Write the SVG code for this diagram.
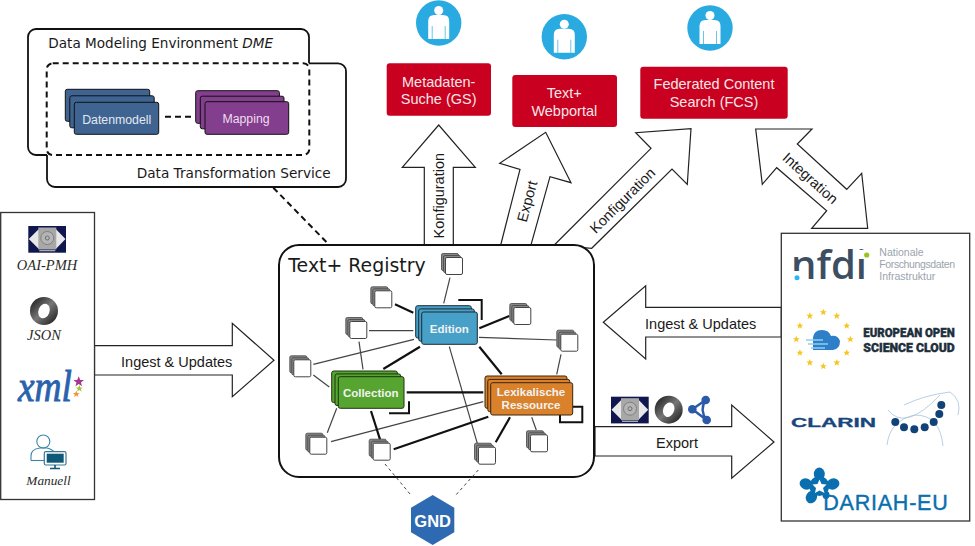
<svg xmlns="http://www.w3.org/2000/svg" width="975" height="546" viewBox="0 0 975 546">
<style>
.s{font-family:"Liberation Sans",Arial,sans-serif}
.d{font-family:"DejaVu Sans",Verdana,sans-serif;fill:#1a1a1a}
.c{text-anchor:middle}
.l{font-size:14.5px;fill:#1a1a1a}
.w{font-size:14.5px;fill:#f6e6e8}
.nb{font-size:11.5px;font-weight:bold;fill:#f2f2f2}
.se{font-family:"Liberation Serif","Times New Roman",serif;font-style:italic;font-size:14.5px;fill:#2a2a2a}
.arrow{fill:#fff;stroke:#222;stroke-width:1.2;stroke-linejoin:miter}
.box{fill:#fff;stroke:#333;stroke-width:1.3}
.red{fill:#c9001f}
.thin{stroke:#444;stroke-width:1.2;fill:none}
.thick{stroke:#111;stroke-width:2.2;fill:none}
.loop{stroke:#111;stroke-width:2;fill:none}
.dot{stroke:#444;stroke-width:1;stroke-dasharray:3 3;fill:none}
.dash{stroke:#111;stroke-width:2;stroke-dasharray:6 4;fill:none}
.sol{stroke:#111;stroke-width:1.8;fill:none}
.cb{fill:#888;stroke:#444;stroke-width:.8}
.cf{fill:#fff;stroke:#444;stroke-width:1}
</style>
<defs>
<g id="cube">
<rect class="cb" x="-12.5" y="-12.5" width="17" height="17" rx="1.5"/>
<rect class="cb" x="-10.5" y="-10.5" width="17" height="17" rx="1.5"/>
<rect class="cf" x="-8.5" y="-8.5" width="17" height="17" rx="1.5"/>
</g>
<g id="user">
<circle r="22.7" fill="#29abe2"/>
<circle cy="-12.5" r="4.5" fill="#fff"/>
<path d="M-10.5 16V-2q0-6 6-6H4.500q6 0 6 6V16z" fill="#fff"/>
<path d="M-6.500 3V16M6.500 3V16" stroke="#29abe2" stroke-width=".7"/>
</g>
<g id="oai">
<rect width="37.700" height="26.700" fill="#10164e"/>
<path d="M.5 13 10 3.500H28L37.200 13 28 22.500H10z" fill="#e8e8e8"/>
<rect x="10" y="1.500" width="18" height="22" fill="#a8a8a8"/>
<circle cx="19" cy="12" r="6.500" fill="#b5b5b5" stroke="#808080"/>
<circle cx="19" cy="12" r="2" fill="none" stroke="#707070"/>
<rect x="11" y="24" width="16" height="1.300" fill="#aaa"/>
</g>
<linearGradient id="jg" x1="0" y1="0" x2="1" y2="1">
<stop offset="0" stop-color="#111"/><stop offset=".5" stop-color="#777"/><stop offset="1" stop-color="#111"/>
</linearGradient>
<g id="json">
<circle r="14" fill="url(#jg)"/>
<ellipse rx="5.500" ry="7.500" fill="#fff" transform="rotate(20)"/>
</g>
<polygon id="star" points="0,-3.600 1,-1.100 3.500,-1.100 1.500,.5 2.200,3 0,1.500 -2.200,3 -1.500,.5 -3.500,-1.100 -1,-1.100"/>
</defs>

<g id="dme-dts">
<path class="sol" d="M47 155H36a8 8 0 0 1-8-8V37a8 8 0 0 1 8-8H301a8 8 0 0 1 8 8V63.300"/>
<path class="sol" d="M309 63.300H338a8 8 0 0 1 8 8V179a8 8 0 0 1-8 8H55a8 8 0 0 1-8-8V155"/>
<rect class="dash" x="46.700" y="63.300" width="262.600" height="91.700" rx="6"/>
<text class="d" x="48.300" y="48" font-size="13.600">Data Modeling Environment <tspan font-style="italic">DME</tspan></text>
<text class="d" x="136.700" y="177.700" font-size="13.650">Data Transformation Service</text>
</g>

<g id="arrows">
<polygon class="arrow" points="424.300,245 424.300,167.300 402.300,167.300 438.700,125 475.300,167.300 453.300,167.300 453.300,245"/>
<polygon class="arrow" points="500.700,245 520,169.300 499.700,163.300 545.700,132.300 571,182.700 550,176.700 531,245"/>
<polygon class="arrow" points="554.300,245 651,148.300 635.700,132.700 691,128.700 687.300,184.300 672,169 591.700,248.300"/>
<polygon class="arrow" points="755.700,129 812,129 797.300,144 846.700,189.300 861.700,173.300 867.700,228.300 811.700,228.300 826.700,210.700 776.700,167.700 762.300,184.300"/>
<polygon class="arrow" points="94.500,345.700 232.300,345.700 232.300,323.300 274,360.300 232.300,396.700 232.300,375 94.500,375"/>
<polygon class="arrow" points="781.300,307.300 645.700,307.300 645.700,285.700 603.300,322.300 645.700,359 645.700,337 781.300,337"/>
<polygon class="arrow" points="595,426.700 731.700,426.700 731.700,405 774,442 731.700,478.300 731.700,456 595,456"/>
<text class="s l c" transform="translate(443.500 195.700) rotate(-90)">Konfiguration</text>
<text class="s l c" transform="translate(532 202.700) rotate(-75)">Export</text>
<text class="s l c" transform="translate(626 204) rotate(-45)">Konfiguration</text>
<text class="s l c" transform="translate(807 182) rotate(42)">Integration</text>
<text class="s l c" x="176.700" y="366.700">Ingest &amp; Updates</text>
<text class="s l c" x="700.700" y="329">Ingest &amp; Updates</text>
<text class="s l c" x="677" y="448">Export</text>
</g>

<g id="registry">
<rect x="279" y="245" width="315" height="232" rx="20" fill="#fff" stroke="#111" stroke-width="2"/>
<text class="d" x="288.300" y="271.700" font-size="18.900">Text+ Registry</text>
</g>
<g id="connectors">
<line class="dash" x1="273.300" y1="187.700" x2="328.300" y2="244"/>
<line class="dash" x1="165" y1="116.700" x2="195" y2="116.700"/>
<line class="thin" x1="450" y1="277.700" x2="443.700" y2="303.300"/>
<line class="thin" x1="369" y1="330.700" x2="413.300" y2="330.700"/>
<line class="thin" x1="359" y1="341.700" x2="363" y2="369.300"/>
<line class="thin" x1="313.300" y1="364.300" x2="414" y2="339.300"/>
<line class="thin" x1="313.300" y1="375" x2="329.300" y2="387"/>
<line class="thin" x1="336.700" y1="408.300" x2="327.300" y2="432.700"/>
<line class="thin" x1="331" y1="441.700" x2="483.300" y2="401.700"/>
<line class="thin" x1="449.300" y1="346.700" x2="477.300" y2="443.300"/>
<line class="thin" x1="479" y1="337.300" x2="556.700" y2="340"/>
<line class="thin" x1="561" y1="354.300" x2="556.700" y2="374.300"/>
<line class="thin" x1="531.700" y1="417.300" x2="536.300" y2="430"/>
<line class="thick" x1="395" y1="304.300" x2="413.300" y2="312.700"/>
<line class="thick" x1="479.300" y1="328.300" x2="509.300" y2="316"/>
<line class="thick" x1="420" y1="346.700" x2="383.300" y2="369"/>
<line class="thick" x1="479.300" y1="346.700" x2="501.700" y2="374.300"/>
<line class="thick" x1="406.700" y1="392.300" x2="483.300" y2="392.300"/>
<line class="thick" x1="371" y1="411" x2="380" y2="439.300"/>
<line class="thick" x1="393.700" y1="449.300" x2="488.300" y2="416.700"/>
<line class="thick" x1="510" y1="417.300" x2="495.700" y2="442.300"/>
<polyline class="loop" points="458.300,300 481.700,300 481.700,320"/>
<polyline class="loop" points="389,413.300 409,413.300 409,401.300"/>
<polyline class="loop" points="560,415 560,422.300 582.300,422.300 582.300,406.700 573,406.700"/>
<line class="dot" x1="385" y1="464" x2="411.700" y2="496"/>
<line class="dot" x1="478.300" y1="470" x2="455" y2="496"/>
</g>
<g id="datenmodell" fill="#3f6491" stroke="#111" stroke-width="1">
<rect x="65.300" y="89.300" width="84.400" height="32" rx="2"/>
<rect x="69.800" y="95.800" width="84.400" height="32" rx="2"/>
<rect x="74.300" y="102.300" width="84.400" height="32" rx="2"/>
<text class="s c" x="116.700" y="124" font-size="12.300" fill="#e4e8f0" stroke="none">Datenmodell</text>
</g>
<g id="mapping" fill="#843e8e" stroke="#111" stroke-width="1">
<rect x="195.700" y="90.700" width="83.700" height="32.600" rx="2"/>
<rect x="200.300" y="96.200" width="83.700" height="32.600" rx="2"/>
<rect x="205" y="101.700" width="83.700" height="32.600" rx="2"/>
<text class="s c" x="246" y="123" font-size="12.300" fill="#ecdff0" stroke="none">Mapping</text>
</g>
<g id="cubes">
<use href="#cube" x="454" y="266"/>
<use href="#cube" x="383.300" y="299.300"/>
<use href="#cube" x="358.300" y="330"/>
<use href="#cube" x="302.300" y="368.300"/>
<use href="#cube" x="522.300" y="316"/>
<use href="#cube" x="569.300" y="342.700"/>
<use href="#cube" x="318.300" y="445.700"/>
<use href="#cube" x="381.700" y="451.700"/>
<use href="#cube" x="487" y="455.700"/>
<use href="#cube" x="539" y="443.300"/>
</g>
<g id="edition" fill="#47a0c8" stroke="#1a2a33" stroke-width="1">
<rect x="415.700" y="305.700" width="55.600" height="32.300" rx="2"/>
<rect x="418.700" y="308.900" width="55.600" height="32.300" rx="2"/>
<rect x="421.700" y="312" width="55.600" height="32.300" rx="2"/>
<text class="s c nb" x="449.300" y="332.700" stroke="none">Edition</text>
</g>
<g id="collection" fill="#56a530" stroke="#1d3311" stroke-width="1">
<rect x="331.700" y="371" width="65.700" height="31.600" rx="2"/>
<rect x="335" y="373.900" width="65.700" height="31.600" rx="2"/>
<rect x="338.300" y="376.700" width="65.700" height="31.600" rx="2"/>
<text class="s c nb" x="370.700" y="396.700" stroke="none">Collection</text>
</g>
<g id="lexikalische-ressource" fill="#d9822b" stroke="#3a2410" stroke-width="1">
<rect x="485" y="376" width="82" height="32.300" rx="2"/>
<rect x="487.800" y="379.400" width="82" height="32.300" rx="2"/>
<rect x="490.700" y="382.700" width="82" height="32.300" rx="2"/>
<text class="s c nb" x="531" y="396" stroke="none">Lexikalische</text>
<text class="s c nb" x="531" y="409.300" stroke="none">Ressource</text>
</g>
<g id="gnd">
<polygon points="432.700,495 454.300,507.700 454.300,532.300 432.700,545 411,532.300 411,507.700" fill="#2e6ab1"/>
<text class="s c" x="432.700" y="527" font-size="16.500" font-weight="bold" fill="#fff">GND</text>
</g>

<g id="metadaten-suche">
<use href="#user" x="438.700" y="23"/>
<rect class="red" x="386.700" y="63.300" width="104.300" height="52.400" rx="3"/>
<text class="s c w" x="438.700" y="86.700">Metadaten-</text>
<text class="s c w" x="438.700" y="104">Suche (GS)</text>
</g>
<g id="webportal">
<use href="#user" x="564.300" y="36.700"/>
<rect class="red" x="512.300" y="75" width="104.700" height="52" rx="3"/>
<text class="s c w" x="564.300" y="97.700">Text+</text>
<text class="s c w" x="564.300" y="116">Webportal</text>
</g>
<g id="fcs">
<use href="#user" x="710" y="28"/>
<rect class="red" x="640.300" y="66.700" width="147.400" height="52" rx="3"/>
<text class="s c w" x="714" y="89.300">Federated Content</text>
<text class="s c w" x="714" y="107.300">Search (FCS)</text>
</g>

<g id="sources">
<rect class="box" x=".7" y="212.500" width="93.800" height="287"/>
<use href="#oai" x="28.300" y="226"/>
<text class="se c" x="47" y="270">OAI-PMH</text>
<use href="#json" x="44" y="311"/>
<text class="se c" x="44" y="340">JSON</text>
<text x="18" y="400.500" font-family="'Liberation Serif',serif" font-style="italic" font-size="44" fill="#2a62ad" stroke="#2a62ad" stroke-width=".9" textLength="54" lengthAdjust="spacingAndGlyphs">xml</text>
<use href="#star" transform="translate(78.700 381.700) scale(1.500)" fill="#a8348f"/>
<use href="#star" x="79.300" y="388.500" fill="#9bc53d"/>
<use href="#star" x="76.300" y="394" fill="#f0953a"/>
<circle cx="43.300" cy="441.500" r="6.500" fill="#fff" stroke="#3a86a8" stroke-width="1.100"/>
<path d="M31 460.500V456q0-7 9-8h7q5 1 8 5" fill="none" stroke="#3a86a8" stroke-width="1.100"/>
<path d="M31 460.500H44" stroke="#3a86a8" stroke-width="1.100"/>
<rect x="44.300" y="451.700" width="21.700" height="13.300" rx="1.500" fill="#fff" stroke="#3a7796" stroke-width="1.200"/>
<rect x="46.700" y="453.700" width="17" height="9" fill="#0e5878"/>
<path d="M55 465V468M50 468.500H60" stroke="#0e5878" stroke-width="1.600"/>
<text class="se c" x="48.500" y="485" style="font-size:13.300px">Manuell</text>
</g>

<g id="export-formats">
<use href="#oai" x="611" y="396.700"/>
<use href="#json" x="668.700" y="409.700"/>
<path d="M705.700 400 692.300 409.300 706.700 420Q699 410 705.700 400" fill="none" stroke="#2a5aa8" stroke-width="2.400"/>
<circle cx="705.700" cy="400" r="4.300" fill="#2a5aa8"/>
<circle cx="692.300" cy="409.300" r="4.300" fill="#2a5aa8"/>
<circle cx="706.700" cy="420" r="4.300" fill="#2a5aa8"/>
</g>

<g id="partners">
<rect class="box" x="781.300" y="233.300" width="188.400" height="287.700"/>
<g id="nfdi">
<text x="791" y="279.300" font-family="'Open Sans',sans-serif" font-size="40" font-weight="600" fill="#3c4e62">nfdi</text>
<rect x="790" y="271" width="13" height="10" fill="#fff"/>
<rect x="858" y="250" width="14" height="9" fill="#fff"/>
<circle cx="797" cy="277.700" r="2.500" fill="#29b6f6"/>
<circle cx="866.700" cy="255" r="2.600" fill="#9ac31c"/>
<g class="s" font-size="10.500" fill="#9aa3ad">
<text x="879.300" y="255.700">Nationale</text>
<text x="879.300" y="268" textLength="75.700">Forschungsdaten</text>
<text x="879.300" y="280">Infrastruktur</text>
</g>
</g>
<g id="eosc">
<g fill="#f7c520">
<use href="#star" x="823.300" y="312.300"/>
<use href="#star" x="836.800" y="315.900"/>
<use href="#star" x="846.700" y="325.800"/>
<use href="#star" x="850.300" y="339.300"/>
<use href="#star" x="846.700" y="352.800"/>
<use href="#star" x="836.800" y="362.700"/>
<use href="#star" x="823.300" y="366.300"/>
<use href="#star" x="809.800" y="362.700"/>
<use href="#star" x="799.900" y="352.800"/>
<use href="#star" x="796.300" y="339.300"/>
<use href="#star" x="799.900" y="325.800"/>
<use href="#star" x="809.800" y="315.900"/>
</g>
<path d="M813 342q-1-12 9-12 7 0 9 6 7-1 9 5 0 8-7 9H813z" fill="#2f7fc8"/>
<path d="M806 340H823M808 344H828M811 348H825" stroke="#8fd0ec" stroke-width="1.300"/>
<g font-family="'Roboto',sans-serif" font-weight="900" font-size="12.300" fill="#1e2f3c" stroke="#1e2f3c" stroke-width=".4">
<text x="863.300" y="337.300" textLength="91.400" lengthAdjust="spacingAndGlyphs">EUROPEAN OPEN</text>
<text x="863.300" y="351.700" textLength="91.400" lengthAdjust="spacingAndGlyphs">SCIENCE CLOUD</text>
</g>
</g>
<g id="clarin">
<text x="791" y="426.700" font-family="'Liberation Sans',sans-serif" font-weight="bold" font-size="12.500" fill="#17477c" stroke="#17477c" stroke-width=".3" textLength="85" lengthAdjust="spacingAndGlyphs">CLARIN</text>
<g fill="none" stroke="#a6c3dc" stroke-width=".8">
<path d="M888 410Q905 432 940 395"/>
<path d="M904 405Q925 395 950 392Q962 400 958 415"/>
<path d="M887 445Q890 420 915 415Q940 415 943 446"/>
</g>
<g fill="#12427a">
<circle cx="895.300" cy="422" r="4"/><circle cx="904" cy="427.300" r="4"/><circle cx="914.300" cy="429.300" r="4"/><circle cx="924.700" cy="427.300" r="4"/><circle cx="933.700" cy="422" r="4"/><circle cx="939.300" cy="414" r="4"/><circle cx="941.300" cy="405" r="4"/>
</g>
</g>
<g id="dariah">
<g fill="#0a6fae">
<circle cx="819.300" cy="486" r="10"/>
<ellipse cx="819.300" cy="474" rx="5.500" ry="6.500"/>
<ellipse cx="806" cy="484" rx="6.500" ry="5.500" transform="rotate(20 806 484)"/>
<ellipse cx="833" cy="484" rx="6.500" ry="5.500" transform="rotate(-20 833 484)"/>
<ellipse cx="811.500" cy="497" rx="5.500" ry="6.500" transform="rotate(30 811.500 497)"/>
<ellipse cx="826" cy="495" rx="3.500" ry="4"/>
</g>
<polygon points="819.500,479.500 821.500,484 826.500,484.500 823,488 824.500,493 819.500,490.500 815,493 816,488 812.500,484.500 817.500,484" fill="#fff"/>
<text x="823.300" y="510" font-family="'Liberation Sans',sans-serif" font-size="21.500" fill="#0a6fae" stroke="#0a6fae" stroke-width=".4" textLength="124.400">DARIAH-EU</text>
</g>
</g>
</svg>
